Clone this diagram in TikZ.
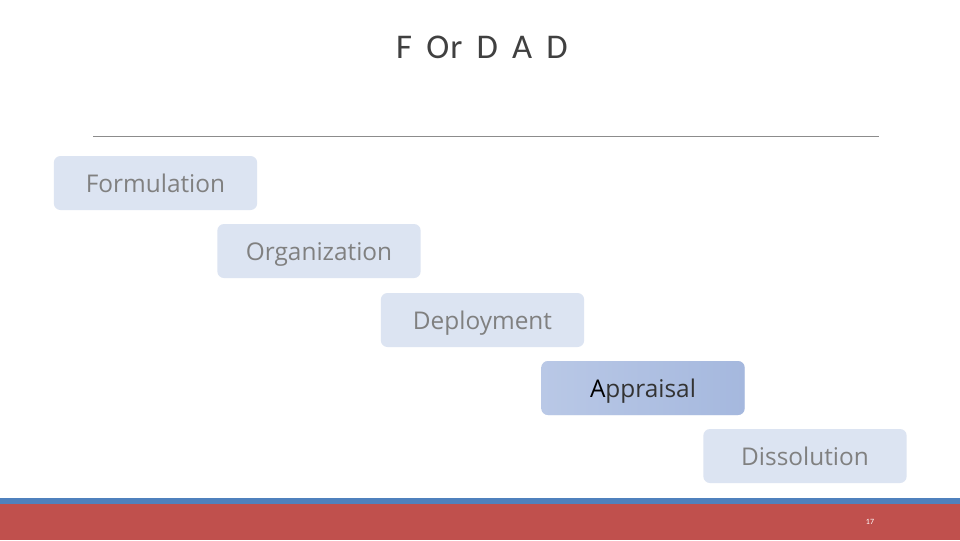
\documentclass[tikz,border=0pt]{standalone}
\usepackage{fontspec}
\setmainfont{Carlito}
\newfontfamily\boxfont{Open Sans}
\newfontfamily\titlefont[WordSpace=1.6,LetterSpace=3]{Carlito}
\definecolor{boxfill}{HTML}{DCE4F2}
\definecolor{boxtext}{HTML}{808080}
\definecolor{apfillA}{HTML}{B9C8E6}
\definecolor{apfillB}{HTML}{A5B8DE}
\definecolor{titlec}{HTML}{404040}
\definecolor{bandblue}{HTML}{4F81BD}
\definecolor{bandred}{HTML}{C0504D}
\tikzset{
  stepbox/.style={rectangle, rounded corners=5pt, minimum width=152.5pt, minimum height=40.5pt,
    fill=boxfill, text=boxtext, font=\boxfont\fontsize{18.3}{20}\selectfont, inner sep=0pt,
    text depth=0pt, text height=14pt},
  hibox/.style={stepbox, left color=apfillA, right color=apfillB, text=black!80},
}
\begin{document}
\begin{tikzpicture}[x=0.75pt,y=-0.75pt]
\useasboundingbox (0,0) rectangle (960,540);
\fill[white] (0,0) rectangle (960,540);
% title
\node[text=titlec, font=\titlefont\fontsize{26}{28}\selectfont] (title) at (482,47) {F Or D A D};
% rule
\coordinate (rl) at (93,136);
\coordinate (rr) at (879,136);
\draw[line width=0.6pt, black!45] (rl) -- (rr);
% boxes
\node[stepbox] (form) at (155.5,183) {Formulation};
\node[stepbox] (org) at (319,251) {Organization};
\node[stepbox] (dep) at (482.5,320) {Deployment};
\node[hibox] (app) at (643,388) {\textcolor{black}{A}ppraisal};
\node[stepbox] (dis) at (805,456) {Dissolution};
% bottom bands
\fill[bandblue] (0,497.5) rectangle (960,504);
\fill[bandred] (0,504) rectangle (960,540);
\node[text=white, font=\fontsize{6}{7}\selectfont] (pg) at (870,522) {17};
\end{tikzpicture}
\end{document}
